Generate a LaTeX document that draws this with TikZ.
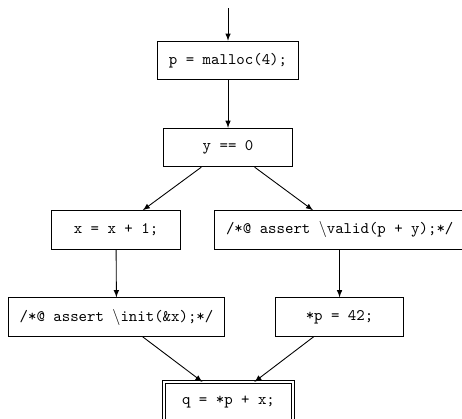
\documentclass[tikz,border=0pt]{standalone}
\usepackage{tikz}
\usetikzlibrary{arrows}

\begin{document}
\begin{tikzpicture}[x=1pt,
y=1pt,
every node/.style={
rectangle,
align = center,
font=\ttfamily,
},
box/.style={
draw,
line width=0.5pt,
minimum height=24pt,
minimum width=80pt,
inner xsep=7pt,
},
flow/.style={
-latex,
line width=0.55pt,
}]

\useasboundingbox (0,0) rectangle (287.5,-260.7);

%entry point
\coordinate (start) at (141.9,-5);
%statements
\node[box] (alloc) at (141.9,-37.6) {p = malloc(4);};
\node[box] (test) at (141.9,-91.8) {y == 0};
\node[box] (incr) at (72.2,-143.1) {x = x + 1;};
\node[box] (valid) at (211.4,-143.1) {/*@ assert $\backslash$valid(p + y);*/};
\node[box] (init) at (72.5,-197.3) {/*@ assert $\backslash$init(\&x);*/};
\node[box] (store) at (211.3,-197.3) {*p = 42;};
\node[box,double,double distance=1.3pt] (join) at (142.2,-249.9) {q = *p + x;};

%edges
\draw[flow] (start) -- (alloc);
\draw[flow] (alloc) -- (test);
\draw[flow] (test) -- (incr);
\draw[flow] (test) -- (valid);
\draw[flow] (incr) -- (init);
\draw[flow] (valid.south -| store) -- (store);
\draw[flow] (init) -- (join);
\draw[flow] (store) -- (join);
\end{tikzpicture}
\end{document}
